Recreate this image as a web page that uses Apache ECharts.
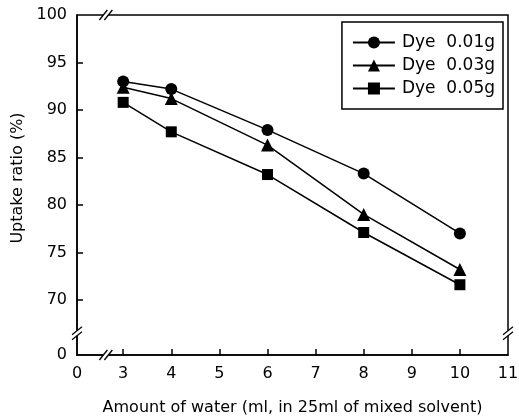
<!DOCTYPE html>
<html>
<head>
<meta charset="utf-8">
<script src="https://cdn.jsdelivr.net/npm/echarts@6.0.0/dist/echarts.min.js"></script>
<style>
html, body {margin: 0; padding: 0; background: #fff;}
#chart {width: 519px; height: 419px;}
</style>
</head>
<body>
<div id="chart"></div>
<script>
var xValues = [3, 4, 6, 8, 10];
var dye001 = [93.0, 92.2, 87.9, 83.3, 77.0];
var dye003 = [92.4, 91.2, 86.3, 79.0, 73.2];
var dye005 = [90.8, 87.7, 83.2, 77.1, 71.6];
var seriesNames = ['Dye  0.01g', 'Dye  0.03g', 'Dye  0.05g'];
var xTicks = [3, 4, 5, 6, 7, 8, 9, 10, 11];
var yTicks = [70, 75, 80, 85, 90, 95, 100];
// axes are broken: the "0" label sits just before the first real tick
var xZero = 2.04;
var yZero = 64.2;
var xBreak = 2.64;
var yBreak = 66.5;

var font = 'DejaVu Sans, sans-serif';

function pairs(ys) {
    var out = [];
    for (var i = 0; i < xValues.length; i++) {
        out.push([xValues[i], ys[i]]);
    }
    return out;
}

function lineSeries(name, ys, symbol, size) {
    return {
        name: name,
        type: 'line',
        data: pairs(ys),
        symbol: symbol,
        symbolSize: size,
        lineStyle: {color: '#000', width: 1.5},
        itemStyle: {color: '#000'},
        emphasis: {disabled: true},
        z: 3
    };
}

var chart = echarts.init(document.getElementById('chart'));
var option = {
    animation: false,
    backgroundColor: '#fff',
    textStyle: {fontFamily: font, color: '#000'},
    grid: {
        left: 77, right: 11, top: 15, bottom: 64,
        outerBoundsMode: 'none',
        show: true, borderColor: '#000', borderWidth: 1.5
    },
    legend: {
        orient: 'vertical',
        right: 16,
        top: 22,
        padding: [12, 8, 12, 10],
        itemGap: 6,
        itemWidth: 42,
        itemHeight: 15,
        borderColor: '#000',
        borderWidth: 1.5,
        backgroundColor: '#fff',
        textStyle: {fontFamily: font, fontSize: 17, color: '#000', padding: [0, 0, 0, 2]},
        data: seriesNames
    },
    xAxis: {
        type: 'value',
        min: xZero,
        max: 11,
        name: 'Amount of water (ml, in 25ml of mixed solvent)',
        nameLocation: 'middle',
        nameGap: 45,
        nameTextStyle: {fontFamily: font, fontSize: 16, color: '#000'},
        axisLine: {lineStyle: {color: '#000', width: 1.5}},
        axisTick: {inside: true, length: 6, lineStyle: {color: '#000', width: 1.5},
            customValues: xTicks.slice(0, -1)},
        axisLabel: {
            fontFamily: font, fontSize: 16, color: '#000', margin: 11,
            customValues: [xZero].concat(xTicks),
            formatter: function (v) { return v === xZero ? '0' : String(v); }
        },
        splitLine: {show: false}
    },
    yAxis: {
        type: 'value',
        min: yZero,
        max: 100,
        name: 'Uptake ratio (%)',
        nameLocation: 'middle',
        nameGap: 49,
        nameTextStyle: {fontFamily: font, fontSize: 16, color: '#000', padding: [0, 0, 0, 14]},
        axisLine: {show: true, lineStyle: {color: '#000', width: 1.5}},
        axisTick: {show: true, inside: true, length: 6, lineStyle: {color: '#000', width: 1.5},
            customValues: yTicks.slice(0, -1)},
        axisLabel: {
            fontFamily: font, fontSize: 16, color: '#000', margin: 10,
            customValues: [yZero].concat(yTicks),
            formatter: function (v) { return v === yZero ? '0' : String(v); }
        },
        splitLine: {show: false}
    },
    series: [
        lineSeries(seriesNames[0], dye001, 'circle', 12),
        lineSeries(seriesNames[1], dye003, 'triangle', 13),
        lineSeries(seriesNames[2], dye005, 'rect', 11)
    ]
};
chart.setOption(option);

// "//" break marks on the four sides of the frame
function breakMark(p, vertical) {
    var els = [];
    var g = 2.5;
    if (vertical) {
        els.push({type: 'rect', shape: {x: p[0] - 2, y: p[1] - g, width: 4, height: 2 * g},
            style: {fill: '#fff'}, z: 100});
        [-g, g].forEach(function (d) {
            els.push({type: 'line', shape: {x1: p[0] - 5, y1: p[1] + d + 4, x2: p[0] + 5, y2: p[1] + d - 4},
                style: {stroke: '#000', lineWidth: 1.3}, z: 101});
        });
    } else {
        els.push({type: 'rect', shape: {x: p[0] - g, y: p[1] - 2, width: 2 * g, height: 4},
            style: {fill: '#fff'}, z: 100});
        [-g, g].forEach(function (d) {
            els.push({type: 'line', shape: {x1: p[0] + d - 4, y1: p[1] + 5, x2: p[0] + d + 4, y2: p[1] - 5},
                style: {stroke: '#000', lineWidth: 1.3}, z: 101});
        });
    }
    return els;
}

var marks = [];
marks = marks.concat(breakMark(chart.convertToPixel({gridIndex: 0}, [xBreak, 100]), false));
marks = marks.concat(breakMark(chart.convertToPixel({gridIndex: 0}, [xBreak, yZero]), false));
marks = marks.concat(breakMark(chart.convertToPixel({gridIndex: 0}, [xZero, yBreak]), true));
marks = marks.concat(breakMark(chart.convertToPixel({gridIndex: 0}, [11, yBreak]), true));
chart.setOption({graphic: marks});
</script>
</body>
</html>
